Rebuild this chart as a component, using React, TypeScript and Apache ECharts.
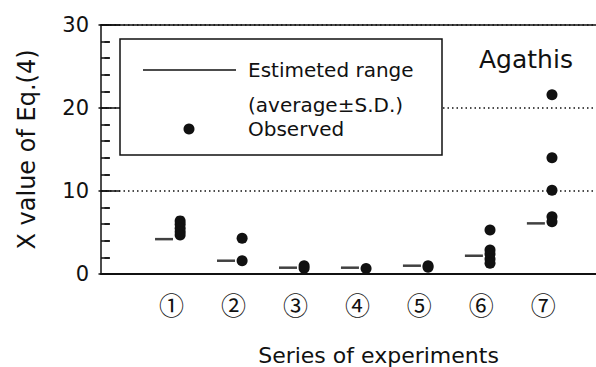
import React, { useEffect, useRef } from "react";
import * as echarts from "echarts";

const categories = ["①", "②", "③", "④", "⑤", "⑥", "⑦"];
const estimated = [4.2, 1.6, 0.76, 0.76, 1.0, 2.2, 6.1];
const observed = [
  [6.4, 6.0, 5.5, 5.1, 4.7],
  [4.3, 1.6],
  [1.0, 0.7],
  [0.65],
  [1.0, 0.8],
  [5.3, 2.9, 2.4, 1.8, 1.3],
  [21.6, 14.0, 10.1, 6.9, 6.3],
];
const yMin = 0;
const yMax = 30;
const yInterval = 10;
const legendLine1 = "Estimeted range";
const legendLine2 = "(average±S.D.)";
const legendObserved = "Observed";
const speciesLabel = "Agathis";
const yTitle = "X value of Eq.(4)";
const xTitle = "Series of experiments";

const FONT = "DejaVu Sans";
const INK = "#111";

export default function App() {
  const ref = useRef<HTMLDivElement>(null);
  useEffect(() => {
    document.body.style.margin = "0";
    if (!ref.current) return;
    const chart = echarts.init(ref.current, undefined, { renderer: "svg" });
    const estData = estimated.map((v, i) => [i + 1 - 0.12, v]);
    const obsData: number[][] = [];
    observed.forEach((arr, i) => arr.forEach((v) => obsData.push([i + 1 + 0.14, v])));
    const xMin = -0.137;
    const xMax = 7.85;
    const Z = 100;
    chart.setOption({
      animation: false,
      backgroundColor: "#fff",
      grid: { left: 101, right: 0, top: 25, bottom: 93, containLabel: false, outerBoundsMode: "none" },
      xAxis: [
        {
          type: "value",
          position: "bottom",
          min: xMin,
          max: xMax,
          axisLine: { show: true, onZero: false, lineStyle: { color: INK, width: 2 } },
          axisTick: { show: false },
          splitLine: { show: false },
          axisLabel: {
            customValues: [1, 2, 3, 4, 5, 6, 7],
            formatter: (v: number) => categories[Math.round(v) - 1] ?? "",
            fontFamily: "Noto Sans CJK JP",
            fontSize: 25,
            color: INK,
            margin: 17,
          },
          name: xTitle,
          nameLocation: "middle",
          nameGap: 70,
          nameTextStyle: {
            fontFamily: FONT,
            fontSize: 22,
            color: INK,
            padding: [0, 0, 0, 60],
          },
        },
        {
          type: "value",
          position: "top",
          min: xMin,
          max: xMax,
          axisLine: { show: true, onZero: false, lineStyle: { color: INK, width: 1.5 } },
          axisTick: { show: false },
          axisLabel: { show: false },
          splitLine: { show: false },
        },
      ],
      yAxis: [
        {
          type: "value",
          position: "left",
          min: yMin,
          max: yMax,
          interval: yInterval,
          axisLine: { show: true, onZero: false, lineStyle: { color: INK, width: 1.5 } },
          axisTick: { show: true, inside: true, length: 19, lineStyle: { color: INK, width: 1.5 } },
          minorTick: { show: true, splitNumber: 5, length: 9, lineStyle: { color: INK, width: 1.5 } },
          splitLine: { show: true, lineStyle: { color: INK, width: 1.5, type: [1.5, 3] } },
          axisLabel: { fontFamily: FONT, fontSize: 21, color: INK, margin: 12 },
          name: yTitle,
          nameLocation: "middle",
          nameRotate: 90,
          nameGap: 62,
          nameTextStyle: { fontFamily: FONT, fontSize: 24, color: INK },
        },
        {
          type: "value",
          position: "right",
          min: yMin,
          max: yMax,
          interval: yInterval,
          axisLine: { show: false },
          axisTick: { show: true, inside: true, length: 11, lineStyle: { color: INK, width: 1.5 } },
          minorTick: { show: true, splitNumber: 5, length: 5, lineStyle: { color: INK, width: 1.5 } },
          splitLine: { show: false },
          axisLabel: { show: false },
        },
      ],
      series: [
        {
          name: legendLine1,
          type: "scatter",
          xAxisIndex: 0,
          yAxisIndex: 0,
          symbol: "rect",
          symbolSize: [18, 2.5],
          itemStyle: { color: INK },
          data: estData,
          z: 3,
        },
        {
          name: legendObserved,
          type: "scatter",
          xAxisIndex: 0,
          yAxisIndex: 0,
          symbol: "circle",
          symbolSize: 11,
          itemStyle: { color: INK, opacity: 1 },
          data: obsData,
          z: 4,
        },
      ],
      graphic: [
        {
          type: "rect",
          z: Z,
          shape: { x: 120, y: 39, width: 322, height: 116 },
          style: { fill: "#fff", stroke: INK, lineWidth: 1.5 },
        },
        {
          type: "line",
          z: Z + 1,
          shape: { x1: 143, y1: 70, x2: 236, y2: 70 },
          style: { stroke: INK, lineWidth: 1.5 },
        },
        {
          type: "text",
          z: Z + 1,
          x: 248,
          y: 70,
          style: { text: legendLine1, font: `20px '${FONT}'`, fill: INK, verticalAlign: "middle" },
        },
        {
          type: "text",
          z: Z + 1,
          x: 248,
          y: 105,
          style: { text: legendLine2, font: `20px '${FONT}'`, fill: INK, verticalAlign: "middle" },
        },
        {
          type: "circle",
          z: Z + 1,
          shape: { cx: 189, cy: 129, r: 5.5 },
          style: { fill: INK },
        },
        {
          type: "text",
          z: Z + 1,
          x: 248,
          y: 129,
          style: { text: legendObserved, font: `20px '${FONT}'`, fill: INK, verticalAlign: "middle" },
        },
        {
          type: "text",
          z: Z + 1,
          x: 479,
          y: 59,
          style: { text: speciesLabel, font: `25px '${FONT}'`, fill: INK, verticalAlign: "middle" },
        },
      ],
    });
    return () => chart.dispose();
  }, []);
  return <div ref={ref} style={{ width: 596, height: 367 }} />;
}
